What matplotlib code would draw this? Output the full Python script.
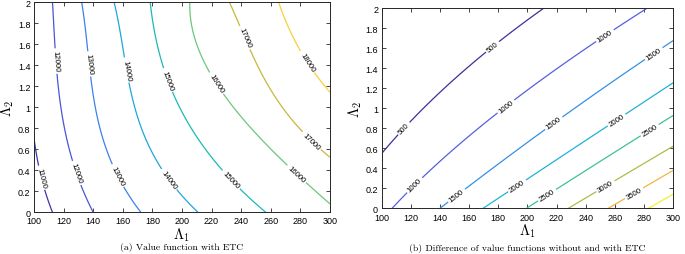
import numpy as np
import matplotlib
matplotlib.use("Agg")
from matplotlib import pyplot as plt
from matplotlib.ticker import FuncFormatter

# rows of Lambda2 at which the contour crossings were read
rows = [0.0, 0.5, 1.0, 1.5, 2.0]

# (a) value function with ETC: Lambda1 where each level is crossed, per row
levels_a = [10000, 11000, 12000, 13000, 14000, 15000, 16000, 17000, 18000, 19000]
cross_a = [
    [85, 78, 75, 73, 72],
    [112.6, 102, 98.5, 96, 94.5],
    [140.1, 125.5, 118.7, 114.2, 112.6],
    [172.4, 151, 142.4, 136, 132.4],
    [211, 182, 168.9, 160.3, 154.3],
    [256.5, 222, 197.5, 185.6, 178.4],
    [306, 270, 231, 215.3, 204.7],
    [360, 301, 269.5, 246.5, 232.4],
    [420, 355, 308, 282.6, 265.1],
    [490, 420, 360, 328, 306],
]
shown_a = [11000, 12000, 13000, 14000, 15000, 16000, 17000, 18000]
colors_a = ["#3b37a6", "#4a55d6", "#3b82ea", "#1fa6da", "#1cb9b5",
            "#6cc77e", "#c7b83b", "#f6d03d"]
labels_a = [(105.2, 0.33), (129.9, 0.38), (158.1, 0.36), (191.9, 0.32),
            (232.4, 0.30), (273, 0.30), (287.6, 0.68),
            (114.2, 1.44), (135.1, 1.41), (160.3, 1.35), (188.5, 1.25),
            (220, 1.2), (240.3, 1.65), (284.3, 1.43)]

# (b) difference of value functions without and with ETC
levels_b = [0, 500, 1000, 1500, 2000, 2500, 3000, 3500, 4000, 4500]
cross_b = [
    [35, 62, 95, 130, 170],
    [72, 97, 129, 166, 211],
    [107.3, 142, 184, 230, 282],
    [140, 185.5, 232, 282, 334],
    [169.7, 221, 274, 325, 378],
    [199.4, 253, 308, 363, 420],
    [228, 286, 344, 403, 462],
    [255.4, 314, 373, 432, 492],
    [283, 343, 403, 463, 523],
    [311, 372, 433, 494, 555],
]
shown_b = [500, 1000, 1500, 2000, 2500, 3000, 3500, 4000]
colors_b = ["#3f2f9c", "#5560dd", "#3490e6", "#20b2d6", "#3fc09c",
            "#a8bf47", "#f4b343", "#f6ef2a"]
labels_b = [(116, 0.79), (176.5, 1.61), (122.8, 0.23), (186.8, 0.99),
            (253.2, 1.73), (151.4, 0.13), (217.7, 0.86), (287.5, 1.53),
            (193.7, 0.21), (262.3, 0.86), (213.2, 0.14), (284, 0.78),
            (253.2, 0.23), (273.7, 0.14)]


def build_field(levels, crossings):
    # smooth each level's crossing curve over the read rows, then fill rows
    x = np.linspace(100, 300, 401)
    y = np.linspace(0, 2, 201)
    curves = [np.polynomial.Polynomial.fit(rows, c, 3)(y) for c in crossings]
    curves = np.array(curves)
    Z = np.array([np.interp(x, curves[:, j], levels) for j in range(len(y))])
    return x, y, Z


def tick_fmt(v, pos):
    return ("%g" % v)


def style_axes(ax):
    ax.set_xlim(100, 300)
    ax.set_ylim(0, 2)
    ax.set_xticks(np.arange(100, 301, 20))
    ax.set_yticks(np.arange(0, 2.01, 0.2))
    ax.yaxis.set_major_formatter(FuncFormatter(tick_fmt))
    ax.tick_params(direction="in", top=True, right=True, length=3,
                   width=0.6, labelsize=6.5, color="#262626")
    ax.tick_params(axis="x", pad=3)
    ax.tick_params(axis="y", pad=2.5)
    for s in ax.spines.values():
        s.set_linewidth(0.7)
        s.set_color("#262626")
    ax.set_xlabel(r"$\mathbf{\Lambda_1}$", fontsize=10.5, labelpad=0)
    ax.set_ylabel(r"$\mathbf{\Lambda_2}$", fontsize=10.5, labelpad=1)


plt.rcParams["font.family"] = ["Liberation Sans", "DejaVu Sans"]
plt.rcParams["mathtext.fontset"] = "cm"

fig = plt.figure(figsize=(6.85, 2.55), dpi=100)
ax1 = fig.add_axes([0.0496, 0.1635, 0.432, 0.8235])
ax2 = fig.add_axes([0.557, 0.179, 0.4257, 0.784])

for ax, lv, cr, shown, cols, labs, cap, cap_y in [
    (ax1, levels_a, cross_a, shown_a, colors_a, labels_a,
     "(a) Value function with ETC", -0.162),
    (ax2, levels_b, cross_b, shown_b, colors_b, labels_b,
     "(b) Difference of value functions without and with ETC", -0.195),
]:
    x, y, Z = build_field(lv, cr)
    cs = ax.contour(x, y, Z, levels=shown, colors=cols, linewidths=0.9)
    ax.clabel(cs, fmt="%d", fontsize=5.6, colors="black", inline=True,
              inline_spacing=2, manual=labs)
    style_axes(ax)
    ax.text(0.5, cap_y, cap, transform=ax.transAxes,
            ha="center", va="center", fontsize=7, family="cmr10")

fig.savefig("out.png", dpi=100)
